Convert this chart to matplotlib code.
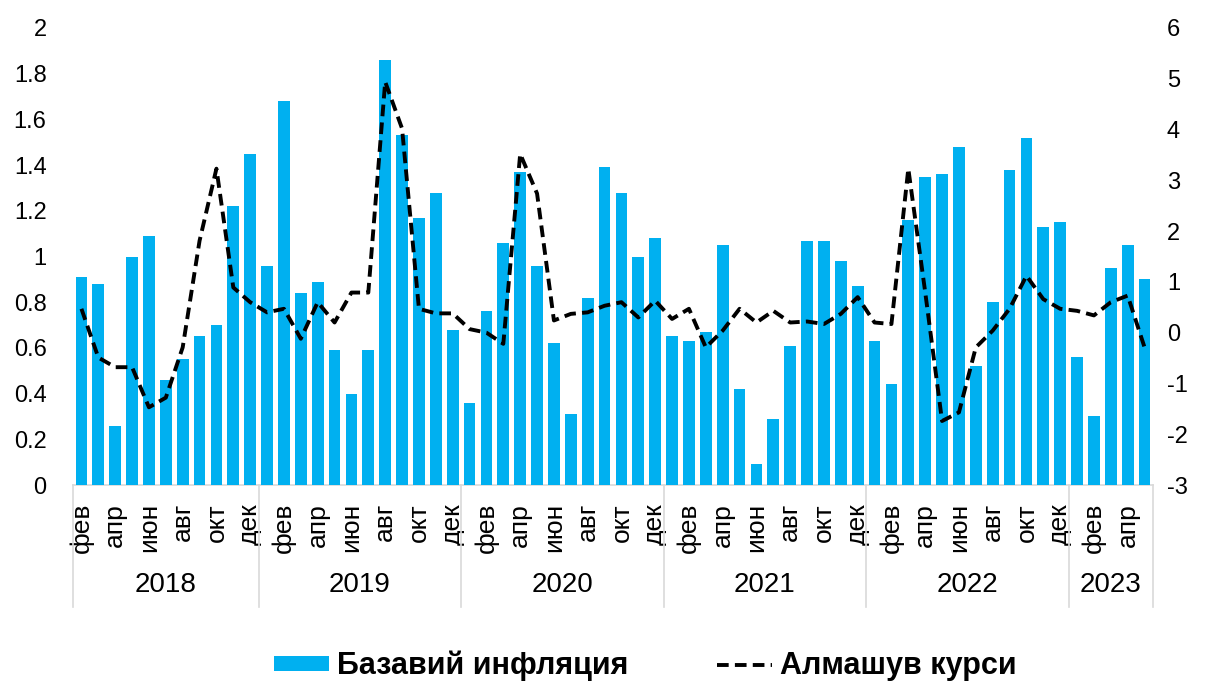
import numpy as np
import matplotlib
matplotlib.use("Agg")
import matplotlib.pyplot as plt
import matplotlib.transforms as mtransforms

plt.rcParams['font.family'] = ['Liberation Sans', 'DejaVu Sans']
plt.rcParams['axes.unicode_minus'] = False

# months Feb 2018 .. May 2023
month_names = ["янв", "фев", "мар", "апр", "май", "июн",
               "июл", "авг", "сен", "окт", "ноя", "дек"]
years = ["2018", "2019", "2020", "2021", "2022", "2023"]
months_per_year = [11, 12, 12, 12, 12, 5]
first_month = 1  # фев

# core inflation, % (left axis)
core_infl = [0.91, 0.88, 0.26, 1.00, 1.09, 0.46, 0.55, 0.65, 0.70, 1.22, 1.45,
             0.96, 1.68, 0.84, 0.89, 0.59, 0.40, 0.59, 1.86, 1.53, 1.17, 1.28, 0.68,
             0.36, 0.76, 1.06, 1.37, 0.96, 0.62, 0.31, 0.82, 1.39, 1.28, 1.00, 1.08,
             0.65, 0.63, 0.67, 1.05, 0.42, 0.09, 0.29, 0.61, 1.07, 1.07, 0.98, 0.87,
             0.63, 0.44, 1.16, 1.35, 1.36, 1.48, 0.52, 0.80, 1.38, 1.52, 1.13, 1.15,
             0.56, 0.30, 0.95, 1.05, 0.90]

# exchange rate change, % (right axis)
fx_rate = [0.47, -0.49, -0.68, -0.68, -1.47, -1.28, -0.29, 1.81, 3.23, 0.89, 0.60,
           0.40, 0.47, -0.12, 0.60, 0.20, 0.79, 0.79, 4.94, 4.02, 0.47, 0.38, 0.38,
           0.07, 0.00, -0.22, 3.52, 2.74, 0.24, 0.37, 0.40, 0.53, 0.60, 0.30, 0.63,
           0.27, 0.47, -0.29, 0.04, 0.47, 0.20, 0.43, 0.20, 0.22, 0.17, 0.37, 0.70,
           0.20, 0.17, 3.23, 0.80, -1.74, -1.57, -0.29, 0.04, 0.47, 1.12, 0.66, 0.47,
           0.43, 0.34, 0.60, 0.73, -0.29]

n = len(core_infl)
x = np.arange(n)
month_idx = [(first_month + i) % 12 for i in range(n)]

fig = plt.figure(figsize=(12.06, 6.84), dpi=100)
ax = fig.add_axes([73 / 1206, 1 - 485 / 684, (1153 - 73) / 1206, (485 - 28) / 684])
ax2 = ax.twinx()

bars = ax.bar(x, core_infl, width=0.7, color="#00B0F0", label="Базавий инфляция", zorder=2)
line, = ax2.plot(x, fx_rate, color="black", lw=2.8, linestyle=(0, (3, 1.6)),
                 label="Алмашув курси", zorder=3)

ax.set_xlim(-0.5, n - 0.5)
ax.set_ylim(0, 2)
ax.set_yticks(np.arange(0, 2.01, 0.2))
ax.set_yticklabels(["0", "0.2", "0.4", "0.6", "0.8", "1", "1.2", "1.4", "1.6", "1.8", "2"])
ax2.set_ylim(-3, 6)
ax2.set_yticks(range(-3, 7))

for a in (ax, ax2):
    for s in ("top", "left", "right", "bottom"):
        a.spines[s].set_visible(False)
ax.axhline(0, color="#d9d9d9", lw=1.2, zorder=1, clip_on=False)

ax.tick_params(axis="y", length=0, pad=19, labelsize=17)
ax2.tick_params(axis="y", length=0, pad=10, labelsize=17)

# month labels on even months
tick_pos = [i for i in range(n) if month_idx[i] % 2 == 1]
ax.set_xticks(tick_pos)
ax.set_xticklabels([month_names[month_idx[i]] for i in tick_pos], rotation=90, fontsize=19)
ax.tick_params(axis="x", length=0, pad=13)

# year dividers and labels
trans = mtransforms.blended_transform_factory(ax.transData, ax.transAxes)
bounds = np.concatenate([[0], np.cumsum(months_per_year)])
for b in bounds:
    ax.plot([b - 0.5, b - 0.5], [0, -0.267], color="#d9d9d9", lw=1.2,
            transform=trans, clip_on=False)
for yr, a, b in zip(years, bounds[:-1], bounds[1:]):
    ax.text((a + b - 1) / 2, -0.218, yr, transform=trans, ha="center", va="center",
            fontsize=20)

fig.legend(handles=[bars, line], loc="center", bbox_to_anchor=(0.535, 0.026), ncol=2,
           frameon=False, handlelength=1.8, handleheight=0.4, columnspacing=2.9,
           handletextpad=0.25, borderpad=0.2, prop={"weight": "bold", "size": 22})

fig.savefig("out.png", dpi=100)
